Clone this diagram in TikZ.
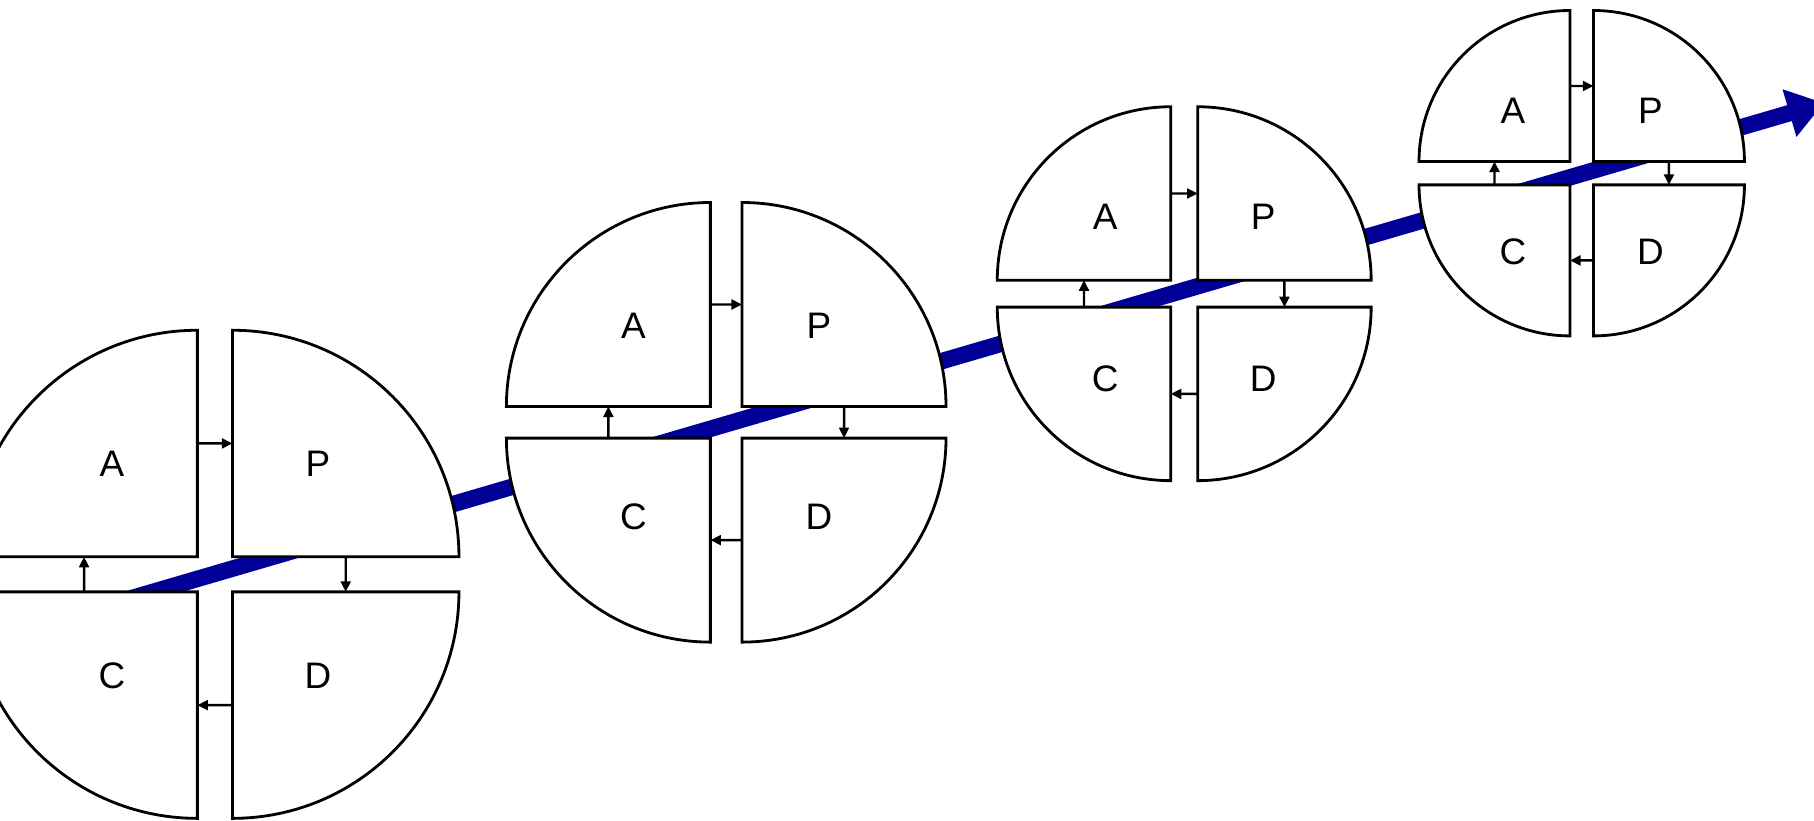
\documentclass[tikz,border=0pt]{standalone}
\usepackage{fontspec}
\setmainfont{Liberation Sans}
\usetikzlibrary{arrows.meta}
\definecolor{flowblue}{RGB}{0,0,153}

\begin{document}
\begin{tikzpicture}[
        quad/.style={draw, fill=white, line width=0.8pt},
        turn/.style={-{Triangle[length=3pt,width=2.8pt]}, line width=0.7pt},
        lbl/.style={font=\fontsize{10.5}{12}\selectfont, inner sep=0pt}
    ]
        \useasboundingbox (0,0) rectangle (18.14,-8.2);
        \clip (0,0) rectangle (18.14,-8.2);

        \coordinate (flowstart) at (0.5,-6.22);
        \coordinate (flowend) at (18.24,-1.03);
        \draw[flowblue, line width=0.165cm, -{Triangle[length=0.36cm,width=0.47cm]}] (flowstart) -- (flowend);

        % first cycle
        \begin{scope}[shift={(2.149,-5.743)}, scale=2.265]
            \draw[quad] (-0.0775,0.0775) -- coordinate (A1r) (-0.0775,1.0775) arc (90:180:1) -- coordinate (A1b) cycle;
            \draw[quad] (0.0775,0.0775) -- coordinate (P1b) (1.0775,0.0775) arc (0:90:1) -- coordinate (P1l) cycle;
            \draw[quad] (-0.0775,-0.0775) -- coordinate (C1t) (-1.0775,-0.0775) arc (180:270:1) -- coordinate (C1r) cycle;
            \draw[quad] (0.0775,-0.0775) -- coordinate (D1l) (0.0775,-1.0775) arc (270:360:1) -- coordinate (D1t) cycle;
            \node[lbl] (A1) at (-0.455,0.49) {A};
            \node[lbl] (P1) at (0.455,0.49) {P};
            \node[lbl] (C1) at (-0.455,-0.447) {C};
            \node[lbl] (D1) at (0.455,-0.447) {D};
            \draw[turn] (A1r) -- (P1l);
            \draw[turn] (P1b) -- (D1t);
            \draw[turn] (D1l) -- (C1r);
            \draw[turn] (C1t) -- (A1b);
        \end{scope}

        % second cycle
        \begin{scope}[shift={(7.262,-4.223)}, scale=2.04]
            \draw[quad] (-0.0775,0.0775) -- coordinate (A2r) (-0.0775,1.0775) arc (90:180:1) -- coordinate (A2b) cycle;
            \draw[quad] (0.0775,0.0775) -- coordinate (P2b) (1.0775,0.0775) arc (0:90:1) -- coordinate (P2l) cycle;
            \draw[quad] (-0.0775,-0.0775) -- coordinate (C2t) (-1.0775,-0.0775) arc (180:270:1) -- coordinate (C2r) cycle;
            \draw[quad] (0.0775,-0.0775) -- coordinate (D2l) (0.0775,-1.0775) arc (270:360:1) -- coordinate (D2t) cycle;
            \node[lbl] (A2) at (-0.455,0.473) {A};
            \node[lbl] (P2) at (0.455,0.473) {P};
            \node[lbl] (C2) at (-0.455,-0.464) {C};
            \node[lbl] (D2) at (0.455,-0.464) {D};
            \draw[turn] (A2r) -- (P2l);
            \draw[turn] (P2b) -- (D2t);
            \draw[turn] (D2l) -- (C2r);
            \draw[turn] (C2t) -- (A2b);
        \end{scope}

        % third cycle
        \begin{scope}[shift={(11.842,-2.937)}, scale=1.735]
            \draw[quad] (-0.0775,0.0775) -- coordinate (A3r) (-0.0775,1.0775) arc (90:180:1) -- coordinate (A3b) cycle;
            \draw[quad] (0.0775,0.0775) -- coordinate (P3b) (1.0775,0.0775) arc (0:90:1) -- coordinate (P3l) cycle;
            \draw[quad] (-0.0775,-0.0775) -- coordinate (C3t) (-1.0775,-0.0775) arc (180:270:1) -- coordinate (C3r) cycle;
            \draw[quad] (0.0775,-0.0775) -- coordinate (D3l) (0.0775,-1.0775) arc (270:360:1) -- coordinate (D3t) cycle;
            \node[lbl] (A3) at (-0.455,0.444) {A};
            \node[lbl] (P3) at (0.455,0.444) {P};
            \node[lbl] (C3) at (-0.455,-0.493) {C};
            \node[lbl] (D3) at (0.455,-0.493) {D};
            \draw[turn] (A3r) -- (P3l);
            \draw[turn] (P3b) -- (D3t);
            \draw[turn] (D3l) -- (C3r);
            \draw[turn] (C3t) -- (A3b);
        \end{scope}

        % fourth cycle
        \begin{scope}[shift={(15.817,-1.732)}, scale=1.51]
            \draw[quad] (-0.0775,0.0775) -- coordinate (A4r) (-0.0775,1.0775) arc (90:180:1) -- coordinate (A4b) cycle;
            \draw[quad] (0.0775,0.0775) -- coordinate (P4b) (1.0775,0.0775) arc (0:90:1) -- coordinate (P4l) cycle;
            \draw[quad] (-0.0775,-0.0775) -- coordinate (C4t) (-1.0775,-0.0775) arc (180:270:1) -- coordinate (C4r) cycle;
            \draw[quad] (0.0775,-0.0775) -- coordinate (D4l) (0.0775,-1.0775) arc (270:360:1) -- coordinate (D4t) cycle;
            \node[lbl] (A4) at (-0.455,0.415) {A};
            \node[lbl] (P4) at (0.455,0.415) {P};
            \node[lbl] (C4) at (-0.455,-0.522) {C};
            \node[lbl] (D4) at (0.455,-0.522) {D};
            \draw[turn] (A4r) -- (P4l);
            \draw[turn] (P4b) -- (D4t);
            \draw[turn] (D4l) -- (C4r);
            \draw[turn] (C4t) -- (A4b);
        \end{scope}
    \end{tikzpicture}
\end{document}
